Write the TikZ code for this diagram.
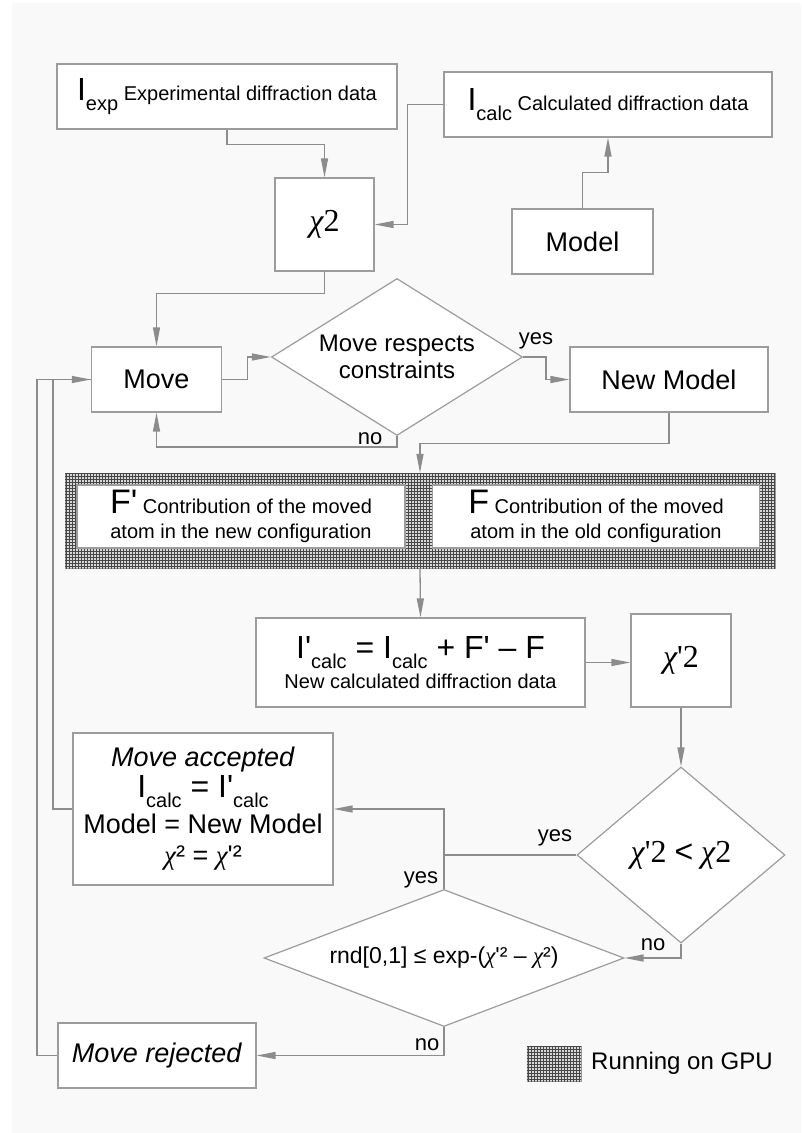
\documentclass[tikz,border=0pt]{standalone}
\usepackage{fontspec}
\setmainfont{Liberation Sans}
\newfontfamily\grk{Liberation Serif}
\usetikzlibrary{arrows.meta}
\usetikzlibrary{shapes.geometric}
\usetikzlibrary{patterns}
\usetikzlibrary{positioning}
\definecolor{bgcol}{HTML}{F9F9F9}
\definecolor{linecol}{HTML}{8C8C8C}
\definecolor{boxcol}{HTML}{9C9C9C}
\newcommand{\fs}[1]{\fontsize{#1}{#1}\selectfont}
\newcommand{\pr}{\textquotesingle}
\newcommand{\Ic}[2][]{{\fs{32}I#1}\raisebox{-10pt}{\fs{20}#2}}
\newcommand{\chis}{{\grk\itshape χ}}

\begin{document}
\begin{tikzpicture}[x=1pt,y=-1pt,>={Triangle[length=19pt,width=7pt]},
    box/.style={rectangle,draw=boxcol,fill=white,line width=1.2pt,inner sep=0pt,align=center,font=\fs{27}},
    decision/.style={diamond,draw=boxcol,fill=white,line width=1.2pt,inner sep=0pt,align=center},
    gpu node/.style={rectangle,draw=boxcol,fill=gray!30,postaction={pattern=grid,pattern color=gray!55!black},inner sep=0pt},
    link/.style={draw=linecol,line width=1.3pt},
    tag/.style={font=\fs{22},inner sep=0pt}]
  \useasboundingbox (0,0) rectangle (801,1133);
  \fill[bgcol] (12,3) rectangle (801,1133);
  % input data and model
  \node[box,font=\fs{20},minimum width=340,minimum height=65] (iexp) at (227,96.5) {\Ic{exp} Experimental diffraction data};
  \node[box,font=\fs{20},minimum width=328,minimum height=65] (icalc) at (608,104.5) {\Ic{calc} Calculated diffraction data};
  \node[box,font=\grk\fs{32},minimum width=99,minimum height=93] (chi) at (324.5,224.5) {\chis2};
  \node[box,minimum width=141,minimum height=65] (model) at (582.5,241.5) {Model};
  % move step
  \node[box,minimum width=130,minimum height=65] (move) at (156.5,379.5) {Move};
  \node[decision,font=\fontsize{24}{27}\selectfont,aspect=1.6,minimum width=251,minimum height=157] (cons) at (397,357) {Move respects\\constraints};
  \node[box,minimum width=198,minimum height=65] (newmodel) at (669,379.5) {New Model};
  % GPU part
  \node[gpu node,minimum width=710,minimum height=95] (gpu) at (420,520.5) {};
  \node[box,font=\fontsize{20}{25}\selectfont,minimum width=328,minimum height=63] (fnew) at (241,516.5) {{\fs{34}F\pr} Contribution of the moved\\atom in the new configuration};
  \node[box,font=\fontsize{20}{25}\selectfont,minimum width=327,minimum height=63] (fold) at (596,516.5) {{\fs{34}F} Contribution of the moved\\atom in the old configuration};
  \node[box,font=\fontsize{20}{30}\selectfont,minimum width=329,minimum height=89] (icnew) at (420.5,662.5) {\Ic[\pr]{calc}{\fs{32} = }\Ic{calc}{\fs{32} + F\pr{} – F}\\New calculated diffraction data};
  \node[box,font=\grk\fs{32},minimum width=100,minimum height=93] (chinew) at (681,660.5) {\chis\pr2};
  % acceptance test
  \node[decision,font=\grk\fs{32},aspect=1.18,minimum width=208,minimum height=176] (less) at (681,855) {\chis\pr2 {\normalfont <} \chis2};
  \node[box,font=\fontsize{27}{31}\selectfont,minimum width=260,minimum height=152] (accept) at (203,809) {\textit{Move accepted}\\\Ic{calc}{\fs{32} = }\Ic[\pr]{calc}\\[5pt]Model = New Model\\\chis² = \chis\pr²};
  \node[decision,font=\fs{23},aspect=2.63,minimum width=360,minimum height=137] (rnd) at (444,958) {rnd[0,1] ≤ exp-(\chis\pr² – \chis²)};
  \node[box,minimum width=198,minimum height=65] (reject) at (157,1055.5) {\textit{Move rejected}};
  % legend
  \node[gpu node,minimum width=54,minimum height=35] (leg) at (554,1063.5) {};
  \node[anchor=west,font=\fs{24},inner sep=0pt] (legtxt) at (591,1063.5) {Running on GPU};
  % connectors
  \draw[link,->] (iexp.south) -- ++(0,15) -| (chi.north);
  \draw[link,->] (icalc.west) -- ++(-36,0) |- (chi.east);
  \draw[link,->] (model.north) -- ++(0,-36) -| (icalc.south);
  \draw[link,->] (chi.south) -- ++(0,22) -| (move.north);
  \draw[link,->] (move.east) -- ++(25.5,0) |- (cons.west);
  \draw[link,->] (cons.east) -- ++(23,0) |- (newmodel.west);
  \draw[link,->] (cons.south) -- ++(0,11) -| (move.south);
  \draw[link,->] (newmodel.south) -- ++(0,31) -| (gpu.north);
  \draw[link,->] (gpu.south) -- (icnew.north);
  \draw[link,->] (icnew.east) -- (icnew.east -| chinew.west);
  \draw[link,->] (chinew.south) -- (less.north);
  \draw[link,->] (less.west) -- (less.west -| rnd.north) |- (accept.east);
  \draw[link] (rnd.north) -- (rnd.north |- less.west);
  \draw[link,->] (less.south) |- (rnd.east);
  \draw[link,->] (rnd.south) |- (reject.east);
  \draw[link,->] (reject.west) -- ++(-20.5,0) |- (move.west);
  \draw[link] (accept.west) -- ++(-19.5,0) |- (move.west);
  % branch labels
  \node[tag] (yes1) at (536,341) {yes};
  \node[tag] (no1) at (370,439) {no};
  \node[tag] (yes2) at (555,838) {yes};
  \node[tag] (yes3) at (421,880) {yes};
  \node[tag] (no2) at (653,945) {no};
  \node[tag] (no3) at (427,1045) {no};
\end{tikzpicture}
\end{document}
